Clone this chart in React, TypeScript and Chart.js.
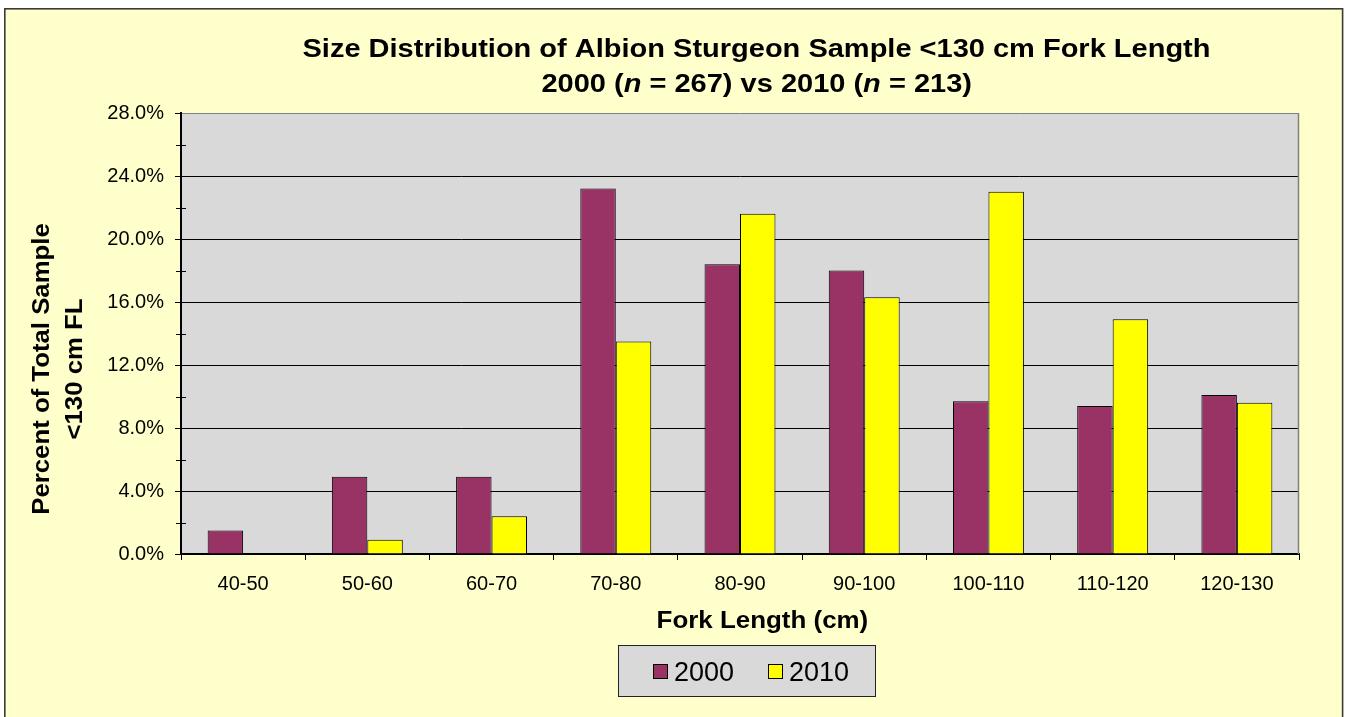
import { useEffect, useRef } from 'react';
import { Chart, registerables } from 'chart.js';

Chart.register(...registerables);

// Fork-length classes (cm) and the share of each year's sample in them (%)
const sizeClasses = ['40-50', '50-60', '60-70', '70-80', '80-90', '90-100', '100-110', '110-120', '120-130'];
const pct2000 = [1.5, 4.9, 4.9, 23.2, 18.4, 18.0, 9.7, 9.4, 10.1];
const pct2010 = [0, 0.9, 2.4, 13.5, 21.6, 16.3, 23.0, 14.9, 9.6];
const seriesLabels = ['2000', '2010'];
const seriesColors = ['#993366', '#FFFF00'];

const yMax = 28;
const yStep = 4;
const yMinorStep = 2;

const titleLine1: [string, boolean][] = [['Size Distribution of Albion Sturgeon Sample <130 cm Fork Length', false]];
const titleLine2: [string, boolean][] = [
  ['2000 (', false],
  ['n', true],
  [' = 267) vs 2010 (', false],
  ['n', true],
  [' = 213)', false],
];
const yTitleLines = ['Percent of Total Sample', '<130 cm FL'];
const xTitle = 'Fork Length (cm)';

const FONT = '"Liberation Sans", Arial, Helvetica, sans-serif';

// Draws a run of bold (optionally italic) pieces centred on the current origin,
// widened horizontally by sx.
function drawRuns(ctx: CanvasRenderingContext2D, runs: [string, boolean][], size: number, sx: number) {
  const fontFor = (it: boolean) => `${it ? 'italic ' : ''}bold ${size}px ${FONT}`;
  let total = 0;
  const widths = runs.map(([t, it]) => {
    ctx.font = fontFor(it);
    const w = ctx.measureText(t).width;
    total += w;
    return w;
  });
  ctx.save();
  ctx.scale(sx, 1);
  ctx.textAlign = 'left';
  ctx.textBaseline = 'alphabetic';
  let x = -total / 2;
  runs.forEach(([t, it], i) => {
    ctx.font = fontFor(it);
    ctx.fillText(t, x, 0);
    x += widths[i];
  });
  ctx.restore();
}

const framePlugin = {
  id: 'frameAndPlot',
  beforeDraw(chart: any) {
    const { ctx, chartArea: a } = chart;
    ctx.save();
    ctx.fillStyle = '#FFFFFF';
    ctx.fillRect(0, 0, chart.width, chart.height);
    ctx.fillStyle = '#FFFFCC';
    ctx.fillRect(5, 9, 1337, 720);
    ctx.strokeStyle = '#3A3A3A';
    ctx.lineWidth = 1.6;
    ctx.strokeRect(4.8, 8.8, 1337.8, 720);
    ctx.fillStyle = '#D9D9D9';
    ctx.fillRect(a.left, a.top, a.right - a.left, a.bottom - a.top);
    ctx.restore();
  },
  beforeDatasetsDraw(chart: any) {
    const { ctx, chartArea: a } = chart;
    ctx.save();
    ctx.strokeStyle = '#808080';
    ctx.lineWidth = 1.5;
    ctx.beginPath();
    ctx.moveTo(a.right - 0.5, a.top);
    ctx.lineTo(a.right - 0.5, a.bottom);
    ctx.stroke();
    ctx.restore();
  },
  afterDraw(chart: any) {
    const { ctx, chartArea: a } = chart;
    const y = chart.scales.y;
    ctx.save();
    ctx.fillStyle = '#000';

    // minor ticks crossing the value axis
    ctx.strokeStyle = '#000';
    ctx.lineWidth = 1;
    for (let v = yMinorStep; v < yMax; v += yStep) {
      const py = Math.round(y.getPixelForValue(v)) + 0.5;
      ctx.beginPath();
      ctx.moveTo(a.left - 5, py);
      ctx.lineTo(a.left + 5, py);
      ctx.stroke();
    }

    // chart title
    ctx.save();
    ctx.translate(756.5, 57.3);
    drawRuns(ctx, titleLine1, 25, 1.16);
    ctx.restore();
    ctx.save();
    ctx.translate(756.7, 91.7);
    drawRuns(ctx, titleLine2, 25, 1.16);
    ctx.restore();

    // value axis title
    const ly = [49, 82];
    yTitleLines.forEach((line, i) => {
      ctx.save();
      ctx.translate(ly[i], 369);
      ctx.rotate(-Math.PI / 2);
      drawRuns(ctx, [[line, false]], 23, 1.12);
      ctx.restore();
    });

    // category axis title
    ctx.save();
    ctx.translate(762.4, 627.7);
    drawRuns(ctx, [[xTitle, false]], 24, 1.08);
    ctx.restore();

    // legend
    const box = { x: 618.5, y: 645.5, w: 257, h: 51 };
    ctx.fillStyle = '#D9D9D9';
    ctx.fillRect(box.x, box.y, box.w, box.h);
    ctx.strokeStyle = '#222';
    ctx.lineWidth = 1;
    ctx.strokeRect(box.x, box.y, box.w, box.h);
    const markerX = [653.5, 768.5];
    const textX = [674, 789];
    ctx.font = `27px ${FONT}`;
    ctx.textAlign = 'left';
    ctx.textBaseline = 'alphabetic';
    chart.data.datasets.forEach((ds: any, i: number) => {
      ctx.fillStyle = ds.backgroundColor;
      ctx.fillRect(markerX[i], 664.5, 14, 14);
      ctx.strokeStyle = '#000';
      ctx.strokeRect(markerX[i], 664.5, 14, 14);
      ctx.fillStyle = '#000';
      ctx.fillText(ds.label, textX[i], 681);
    });
    ctx.restore();
  },
};

export default function App() {
  const canvasRef = useRef<HTMLCanvasElement | null>(null);

  useEffect(() => {
    const canvas = canvasRef.current;
    if (!canvas) return;
    const chart = new Chart(canvas, {
      type: 'bar',
      data: {
        labels: sizeClasses,
        datasets: [
          {
            label: seriesLabels[0],
            data: pct2000,
            backgroundColor: seriesColors[0],
            borderColor: '#000',
            borderWidth: 1,
            categoryPercentage: 0.571,
            barPercentage: 1,
          },
          {
            label: seriesLabels[1],
            data: pct2010,
            backgroundColor: seriesColors[1],
            borderColor: '#000',
            borderWidth: 1,
            categoryPercentage: 0.571,
            barPercentage: 1,
          },
        ],
      },
      options: {
        responsive: false,
        animation: false,
        devicePixelRatio: 1,
        layout: { padding: { left: 100, top: 113, right: 49, bottom: 103 } },
        plugins: {
          legend: { display: false },
          title: { display: false },
          tooltip: { enabled: false },
        },
        scales: {
          x: {
            afterFit: (s: any) => {
              s.height = 60;
            },
            grid: {
              display: true,
              offset: true,
              drawOnChartArea: false,
              drawTicks: true,
              tickLength: 6,
              color: '#000',
              lineWidth: 1,
            },
            border: { display: true, color: '#000', width: 2 },
            ticks: {
              color: '#000',
              padding: 12,
              maxRotation: 0,
              autoSkip: false,
              font: { family: FONT, size: 20 },
            },
          },
          y: {
            min: 0,
            max: yMax,
            afterFit: (s: any) => {
              s.width = 81;
            },
            grid: {
              color: (c: any) => (c.tick && c.tick.value === yMax ? '#808080' : '#000'),
              tickColor: '#000',
              lineWidth: 1,
              drawTicks: true,
              tickLength: 6,
            },
            border: { display: true, color: '#000', width: 2 },
            ticks: {
              stepSize: yStep,
              color: '#000',
              padding: 11,
              font: { family: FONT, size: 20 },
              callback: (v: any) => Number(v).toFixed(1) + '%',
            },
          },
        },
      },
      plugins: [framePlugin],
    });
    return () => chart.destroy();
  }, []);

  return (
    <div style={{ position: 'absolute', left: 0, top: 0, width: 1348, height: 717, background: '#fff' }}>
      <canvas ref={canvasRef} width={1348} height={717} style={{ display: 'block' }} />
    </div>
  );
}
